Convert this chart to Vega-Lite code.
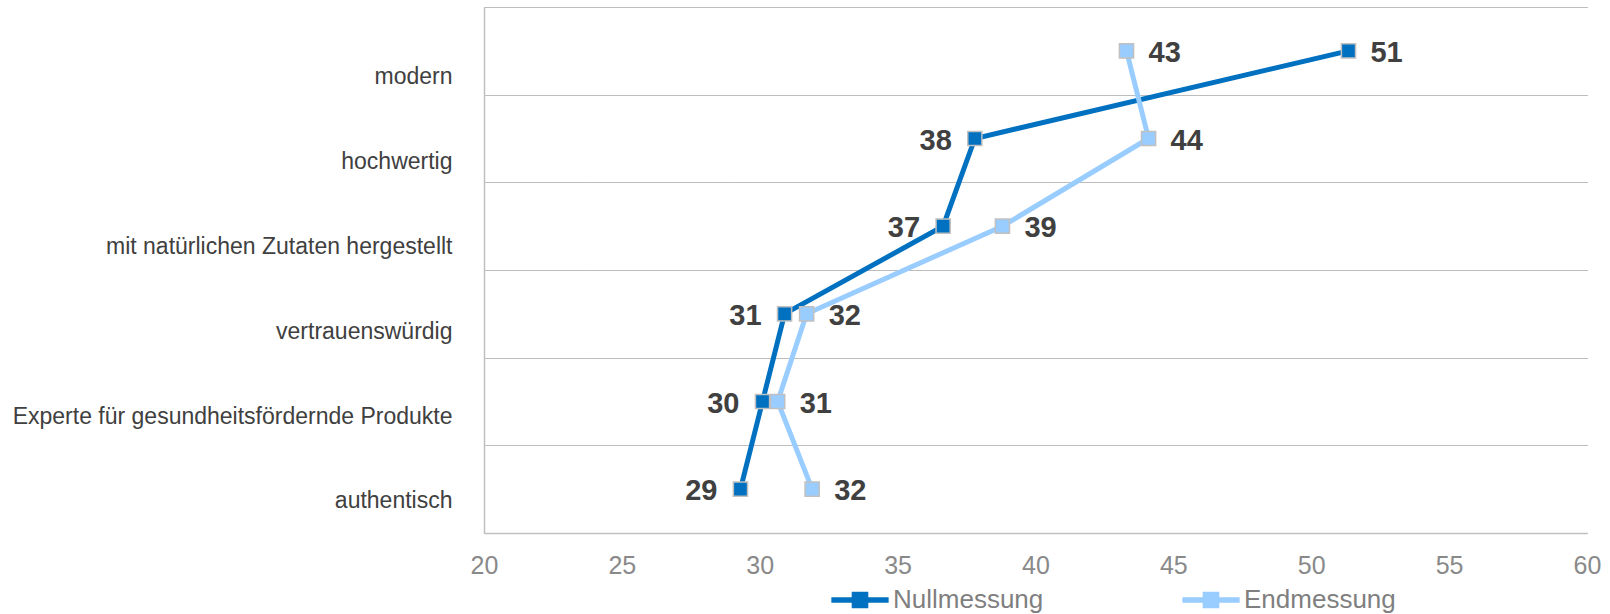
{
  "$schema": "https://vega.github.io/schema/vega-lite/v6.json",
  "width": 1103,
  "height": 526,
  "autosize": {"type": "none"},
  "padding": {"left": 484, "top": 7, "right": 23, "bottom": 81},
  "background": "white",
  "config": {"view": {"stroke": null}, "font": "Liberation Sans"},
  "data": {
    "values": [
      {"attr": "modern", "series": "Nullmessung", "value": 51.35, "rank": 1},
      {"attr": "hochwertig", "series": "Nullmessung", "value": 37.8, "rank": 2},
      {"attr": "mit natürlichen Zutaten hergestellt", "series": "Nullmessung", "value": 36.65, "rank": 3},
      {"attr": "vertrauenswürdig", "series": "Nullmessung", "value": 30.9, "rank": 4},
      {"attr": "Experte für gesundheitsfördernde Produkte", "series": "Nullmessung", "value": 30.1, "rank": 5},
      {"attr": "authentisch", "series": "Nullmessung", "value": 29.3, "rank": 6},
      {"attr": "modern", "series": "Endmessung", "value": 43.3, "rank": 1},
      {"attr": "hochwertig", "series": "Endmessung", "value": 44.1, "rank": 2},
      {"attr": "mit natürlichen Zutaten hergestellt", "series": "Endmessung", "value": 38.8, "rank": 3},
      {"attr": "vertrauenswürdig", "series": "Endmessung", "value": 31.7, "rank": 4},
      {"attr": "Experte für gesundheitsfördernde Produkte", "series": "Endmessung", "value": 30.65, "rank": 5},
      {"attr": "authentisch", "series": "Endmessung", "value": 31.9, "rank": 6}
    ]
  },
  "resolve": {"scale": {"y": "independent"}, "axis": {"y": "independent"}},
  "layer": [
    {
      "encoding": {
        "x": {
          "field": "value", "type": "quantitative",
          "scale": {"domain": [20, 60], "nice": false, "zero": false},
          "axis": {
            "title": null, "orient": "bottom", "grid": false, "ticks": false,
            "values": [20, 25, 30, 35, 40, 45, 50, 55, 60],
            "labelFlush": false, "labelOverlap": false,
            "labelFontSize": 25, "labelColor": "#898989", "labelPadding": 20,
            "domainColor": "#c0c0c0", "domainWidth": 1.5
          }
        },
        "y": {
          "field": "attr", "type": "nominal",
          "sort": ["modern", "hochwertig", "mit natürlichen Zutaten hergestellt", "vertrauenswürdig", "Experte für gesundheitsfördernde Produkte", "authentisch"],
          "scale": {"type": "band", "paddingInner": 0, "paddingOuter": 0},
          "axis": {
            "title": null, "labels": false, "ticks": false, "grid": true,
            "tickBand": "extent", "gridColor": "#7a7a7a", "gridDash": [1, 1], "gridWidth": 1,
            "domainColor": "#c0c0c0", "domainWidth": 1.5
          }
        }
      },
      "layer": [
        {
          "mark": {"type": "line", "strokeWidth": 5},
          "encoding": {
            "color": {
              "field": "series", "type": "nominal",
              "scale": {"domain": ["Nullmessung", "Endmessung"], "range": ["#0070C0", "#99CCFF"]},
              "legend": {
                "title": null, "orient": "none", "direction": "horizontal",
                "legendX": 347, "legendY": 564, "padding": 0,
                "labelFontSize": 26, "labelColor": "#7f7f7f", "labelOffset": 4, "labelLimit": 300,
                "columnPadding": 138,
                "symbolType": "M-1,-0.1H1V0.1H-1Z M-0.29,-0.29H0.29V0.29H-0.29Z",
                "symbolSize": 3283, "symbolStrokeWidth": 0, "symbolOpacity": 1
              }
            },
            "order": {"field": "rank"}
          }
        },
        {
          "mark": {"type": "point", "shape": "square", "filled": true, "size": 200, "stroke": "#c0c0c0", "strokeWidth": 1.5, "opacity": 1},
          "encoding": {
            "color": {"field": "series", "type": "nominal", "legend": null}
          }
        },
        {
          "transform": [{"filter": "datum.series == 'Nullmessung' && datum.attr != 'modern'"}],
          "mark": {"type": "text", "align": "right", "baseline": "middle", "dx": -23, "dy": 2, "fontSize": 29, "fontWeight": "bold", "color": "#404040"},
          "encoding": {"text": {"field": "value", "type": "quantitative", "format": ".0f"}}
        },
        {
          "transform": [{"filter": "!(datum.series == 'Nullmessung' && datum.attr != 'modern')"}],
          "mark": {"type": "text", "align": "left", "baseline": "middle", "dx": 22, "dy": 2, "fontSize": 29, "fontWeight": "bold", "color": "#404040"},
          "encoding": {"text": {"field": "value", "type": "quantitative", "format": ".0f"}}
        }
      ]
    },
    {
      "mark": {"type": "point", "opacity": 0},
      "encoding": {
        "x": {"field": "value", "type": "quantitative"},
        "y": {
          "field": "attr", "type": "nominal",
          "sort": ["modern", "hochwertig", "mit natürlichen Zutaten hergestellt", "vertrauenswürdig", "Experte für gesundheitsfördernde Produkte", "authentisch"],
          "scale": {"type": "point", "padding": 0.598, "align": 0.684},
          "axis": {
            "title": null, "orient": "left", "ticks": false, "domain": false, "grid": false,
            "labelFontSize": 23, "labelColor": "#404040", "labelPadding": 32, "labelLimit": 600
          }
        }
      }
    }
  ]
}
